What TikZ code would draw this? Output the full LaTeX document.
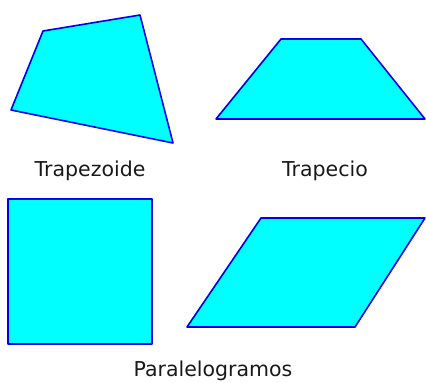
\documentclass[tikz,border=0pt]{standalone}
\usepackage{fontspec}
\setmainfont{DejaVu Sans}
\definecolor{celeste}{RGB}{0,255,255}
\definecolor{borde}{RGB}{0,0,240}
\begin{document}
\begin{tikzpicture}[x=1pt, y=-1pt,
    figura/.style={draw=borde, fill=celeste, line width=1.6pt, line join=round},
    rotulo/.style={font=\fontsize{20.5}{22}\selectfont, text=black!90}]
        \useasboundingbox (0,0) rectangle (426,383);
        % Trapezoide (ningun lado paralelo)
        \draw[figura] (43,31) -- (140,15) -- (173,143) -- (11,110) -- cycle;
        \node[rotulo] (trapezoide) at (90,171) {Trapezoide};
        
        % Trapecio (dos lados paralelos)
        \draw[figura] (281,39) -- (361,39) -- (425,119) -- (216,119) -- cycle;
        \node[rotulo] (trapecio) at (325,171) {Trapecio};
        
        % Paralelogramos: cuadrado y romboide
        \draw[figura] (8,199) rectangle (152,344);
        \draw[figura] (187,327) -- (261,218) -- (425,218) -- (355,327) -- cycle;
        \node[rotulo] (paralelogramos) at (213,371) {Paralelogramos};
    \end{tikzpicture}
\end{document}
